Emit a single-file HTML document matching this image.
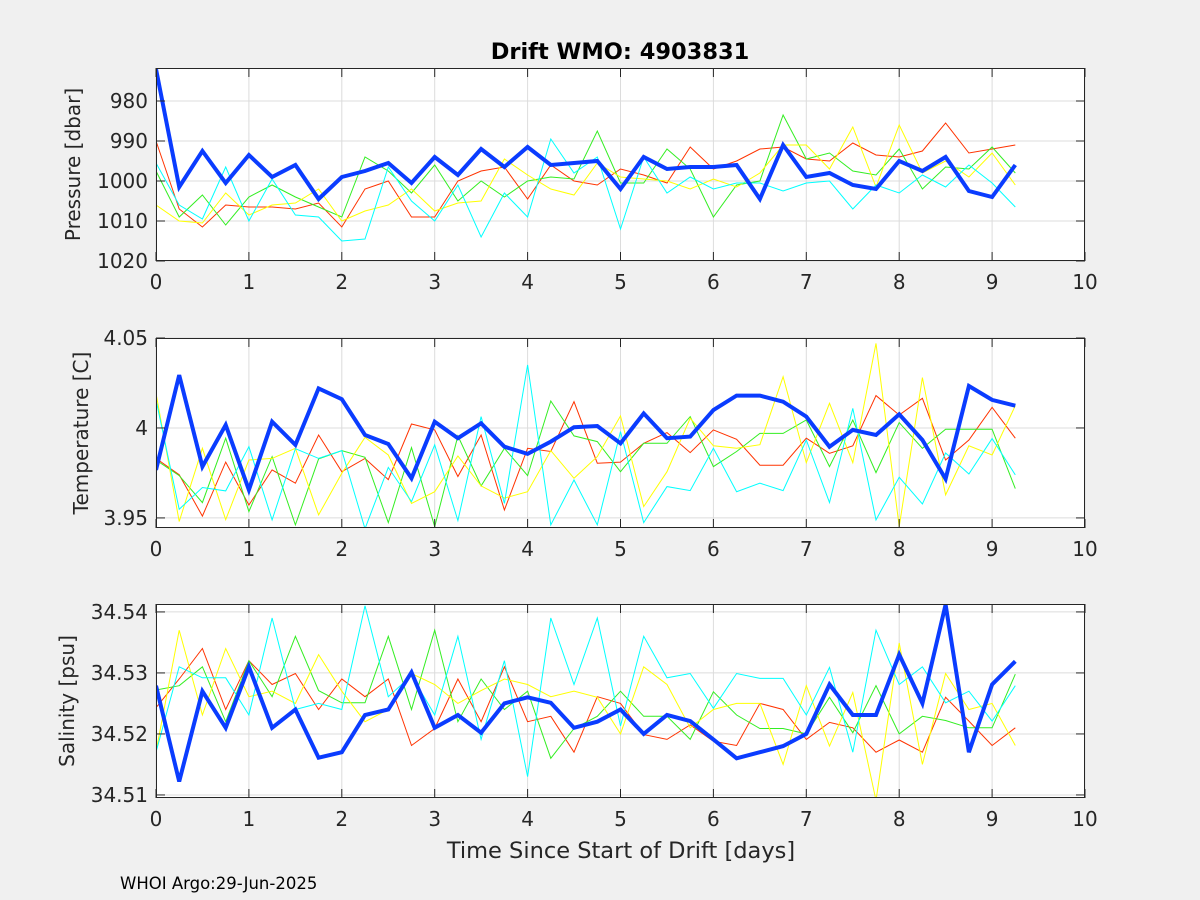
<!DOCTYPE html>
<html><head><meta charset="utf-8"><style>
html,body{margin:0;padding:0;background:#f0f0f0;}
svg{display:block;font-family:"DejaVu Sans","Liberation Sans",sans-serif;}
</style></head><body>
<svg id="fig" width="1200" height="900" viewBox="0 0 1200 900" xmlns="http://www.w3.org/2000/svg">
<rect width="1200" height="900" fill="#f0f0f0"/>
<text x="620" y="59" text-anchor="middle" font-size="22.5" font-weight="bold" fill="#000">Drift WMO: 4903831</text>
<text x="621" y="858" text-anchor="middle" font-size="22.5" fill="#262626">Time Since Start of Drift [days]</text>
<text x="120" y="889" font-size="16.5" fill="#000">WHOI Argo:29-Jun-2025</text>
</svg>
<script>
const days = [0,0.25,0.5,0.75,1,1.25,1.5,1.75,2,2.25,2.5,2.75,3,3.25,3.5,3.75,4,4.25,4.5,4.75,5,5.25,5.5,5.75,6,6.25,6.5,6.75,7,7.25,7.5,7.75,8,8.25,8.5,8.75,9,9.25];
const xTicks = [0,1,2,3,4,5,6,7,8,9,10];
const seriesColors = ["#ff3300","#33ee22","#ffff00","#00ffff"];
// Pressure [dbar]
const presRed = [990,1007,1011.5,1006,1006.5,1006.5,1007,1005.5,1011.5,1002,1000,1009,1009,1000,997.5,996.5,1004.5,996,1000,1001,997,998.5,1000.5,991.5,997,995,992,991.5,994.5,995,990.5,993.5,994,992.5,985.5,993,992,991];
const presGreen = [997.5,1009,1003.5,1011,1004,1001,1004,1006.5,1009,994,997.5,1003,996,1005,1000,1004,1000,999,999.5,987.5,1000.5,1000.5,992,997,1009,1001,1000,983.5,994.5,993,997.5,998.5,992,1002,996.5,997,991.5,998];
const presYellow = [1006,1010,1010.5,1003,1008.5,1006,1005.5,1002,1010,1007.5,1006,1002,1007.5,1005.5,1005,994.5,998.5,1002,1003.5,995.5,999,999.5,1000,1002,999.5,1001.5,998,991,991,997,986.5,1001.5,986,998,995,999,993,1001];
const presCyan = [995.5,1006,1009.5,996.5,1010,999.5,1008.5,1009,1015,1014.5,996.5,1005,1010,1001,1014,1003,1009,989.5,998,994,1012,994,1003,999,1002,1000.5,1000.5,1002.5,1000.5,1000,1007,1001,1003,998.5,1001.5,996,1000.5,1006.5];
const presBlue = [972,1001.5,992.5,1000.5,993.5,999,996,1004.5,999,997.5,995.5,1000.5,994,998.5,992,996.5,991.5,996,995.5,995,1002,994,997,996.5,996.5,996,1004.5,991,999,998,1001,1002,995,997.5,994,1002.5,1004,996];
const presTicks = [980,990,1000,1010,1020];
// Temperature [C] (offset from 4 in mK)
const tempRed = [-16.9,-26,-49,-19,-42.8,-23.3,-30.7,-3.9,-24.3,-17,-28.7,2.2,-1.1,-27,-3.9,-45.6,-11.3,-13.1,14.6,-19.6,-19,-8.5,-2.6,-13.7,-1.1,-6.3,-20.7,-20.7,-5.7,-14.1,-9.9,18,7.2,16.5,-17.8,-6.7,11.5,-5.7];
const tempGreen = [-17.8,-26.5,-41.5,-5.7,-46.5,-15.9,-53.9,-17.2,-12.6,-16.3,-52.6,-10.9,-54.8,-4.4,-32.2,-11.3,-26.5,15,-4.4,-7.6,-24.3,-8.5,-8.5,6.3,-21.5,-13.1,-3,-3,4.4,-21.5,4.4,-24.8,3,-11.3,-0.7,-0.7,-0.7,-33.7];
const tempYellow = [19.3,-52,-11.3,-51,-17.8,-16.9,-11.3,-48.3,-25.2,-5.2,-15,-41.9,-35.4,-15.6,-32.2,-39,-35.4,-12.6,-28,-15.9,6.7,-43.7,-24.3,5.4,-9.9,-11.3,-9.3,28.5,-19.3,13.7,-19.3,47,-54.8,28,-37.2,-9.9,-15,12.4];
const tempCyan = [15.6,-45.2,-33.1,-35,-10.4,-51.1,-11.5,-16.9,-12.6,-56,-21.9,-40.9,-9.4,-51.5,6.3,-41.9,35,-53.9,-28.9,-53.9,-2,-52.6,-32.6,-34.8,-11.3,-35.4,-30.7,-34.8,-6.7,-41.5,10.9,-51.1,-27.4,-42.2,-13.9,-25.6,-5.9,-26.1];
const tempBlue = [-23.3,29.4,-21.5,1.7,-34.4,3.5,-9.4,22,16,-3.9,-8.9,-28,3.5,-5.7,2.6,-10.4,-14.4,-7.6,0.4,1.1,-8.5,8.1,-5.7,-4.8,10,18,18,14.6,6.3,-10.4,-1.1,-3.9,7.6,-6.7,-28.3,23.3,15.6,12.4];
const tempTicks = ["3.95","4","4.05"];
// Salinity [psu] (offset from 34.5 in 0.001)
const salRed = [24.3,29,34,24,32,28.1,29.9,24,29,26.1,29,18.1,20.9,29,22,31,22,22.9,17,26.1,25,19.9,19.1,21.5,18.8,18.1,25,24,19.1,21.9,21,17,19,17,26,22.1,18.1,21];
const salGreen = [27.2,27.9,31,22,32,26.1,36,27.1,25.1,25.1,36,24,37,22,29,24,27,16,20.9,22.9,27,22.9,22.9,19.1,26.9,23.1,20.9,20.9,20,26,20.2,27.9,20,22.9,22.2,21,21,29.8];
const salYellow = [17.1,37,23.1,34,26.1,27,25,33,27,22,24,29.9,28.1,25,27.1,29,28.1,26.1,27,26,20,31,28.1,21,24,25,25,15,27.9,18,26.8,9.1,34.9,15,29.9,24,25,18.1];
const salCyan = [17,31,29.2,29.2,23.1,39,24,25,24,41,26.1,29.6,23.1,36,19.1,32,13,39,28.1,39,21.3,36,29.2,29.9,24.2,29.9,29.1,29.1,23.1,30.9,17,37,28.1,31,25.1,27,22.1,27.9];
const salBlue = [27.9,12.2,27,21,31,21,24,16.1,17,23.1,24,30.1,21,23.1,20.2,25,26,25.1,21,22,24,20,23.1,22.1,19.1,16,17,18,20,28.1,23.1,23.1,33,25,41.2,17,28.1,31.9];
const salTicks = ["34.51","34.52","34.53","34.54"];

const NS = "http://www.w3.org/2000/svg";
const svg = document.getElementById("fig");
const X0 = 156, X1 = 1085;
function xScale(d){ return X0 + (d - 0) / 10 * (X1 - X0); }
function mk(tag, attrs, parent){
  const e = document.createElementNS(NS, tag);
  for (const k in attrs) e.setAttribute(k, attrs[k]);
  (parent || svg).appendChild(e);
  return e;
}
function panel(cfg){
  const g = mk("g", {});
  
  
  const yScale = v => cfg.rev
    ? cfg.top + (v - cfg.min) / (cfg.max - cfg.min) * (cfg.bottom - cfg.top)
    : cfg.bottom - (v - cfg.min) / (cfg.max - cfg.min) * (cfg.bottom - cfg.top);
  const bg = mk("rect", {x:X0, y:cfg.top, width:X1-X0, height:cfg.bottom-cfg.top, fill:"#fff"}, g);
  
  
  xTicks.forEach(t => {
    const x = xScale(t);
    const l = mk("line", {x1:x, x2:x, y1:cfg.top, y2:cfg.bottom, stroke:"#dcdcdc", "stroke-width":1}, g);
    
    
  });
  cfg.ticks.forEach(t => {
    const y = yScale(cfg.tickVal(t));
    const l = mk("line", {x1:X0, x2:X1, y1:y, y2:y, stroke:"#dcdcdc", "stroke-width":1}, g);
    
    
  });
  const clipId = "clip-" + cfg.name;
  const cp = mk("clipPath", {id:clipId}, g);
  mk("rect", {x:X0, y:cfg.top, width:X1-X0, height:cfg.bottom-cfg.top}, cp);
  const names = ["red","green","yellow","cyan","blue"];
  cfg.series.forEach((arr, i) => {
    const pts = arr.map((v, j) => xScale(days[j]).toFixed(1) + "," + yScale(cfg.val(v)).toFixed(1)).join(" ");
    const isBlue = i === 4;
    const p = mk("polyline", {points:pts, fill:"none", stroke: isBlue ? "#0a3cff" : seriesColors[i],
      "stroke-width": isBlue ? 4 : 1, "stroke-linejoin":"miter", "clip-path":"url(#"+clipId+")"}, g);
    
    
  });
  const box = mk("rect", {x:X0+0.5, y:cfg.top+0.5, width:X1-X0-1, height:cfg.bottom-cfg.top-1, fill:"none", stroke:"#262626", "stroke-width":1}, g);
  
  
  xTicks.forEach(t => {
    const x = xScale(t);
    mk("line", {x1:x, x2:x, y1:cfg.bottom, y2:cfg.bottom-9, stroke:"#262626"}, g);
    mk("line", {x1:x, x2:x, y1:cfg.top, y2:cfg.top+9, stroke:"#262626"}, g);
    const tx = mk("text", {x:x, y:cfg.bottom+28, "text-anchor":"middle", "font-size":20, fill:"#262626"}, g);
    tx.textContent = String(t);
    
    
  });
  cfg.ticks.forEach(t => {
    const y = yScale(cfg.tickVal(t));
    mk("line", {x1:X0, x2:X0+9, y1:y, y2:y, stroke:"#262626"}, g);
    mk("line", {x1:X1, x2:X1-9, y1:y, y2:y, stroke:"#262626"}, g);
    const tx = mk("text", {x:X0-8, y:y+7, "text-anchor":"end", "font-size":20, fill:"#262626"}, g);
    tx.textContent = String(t);
    
    
  });
  const lab = mk("text", {x:0, y:0, "text-anchor":"middle", "font-size":20, fill:"#262626",
    transform:"translate(" + cfg.labX + "," + ((cfg.top+cfg.bottom)/2) + ") rotate(-90)"}, g);
  lab.textContent = cfg.label;
  
  
}
panel({name:"pressure", top:68, bottom:261, min:971.75, max:1020, rev:true,
  ticks:presTicks, tickVal:t=>t, val:v=>v, label:"Pressure [dbar]", labX:80,
  series:[presRed,presGreen,presYellow,presCyan,presBlue]});
panel({name:"temperature", top:338, bottom:528, min:3.9444, max:4.05, rev:false,
  ticks:tempTicks, tickVal:t=>parseFloat(t), val:v=>4+v/1000, label:"Temperature [C]", labX:88,
  series:[tempRed,tempGreen,tempYellow,tempCyan,tempBlue]});
panel({name:"salinity", top:604, bottom:798, min:34.5095, max:34.5413, rev:false,
  ticks:salTicks, tickVal:t=>parseFloat(t), val:v=>34.5+v/1000, label:"Salinity [psu]", labX:74,
  series:[salRed,salGreen,salYellow,salCyan,salBlue]});
</script>
</body></html>
